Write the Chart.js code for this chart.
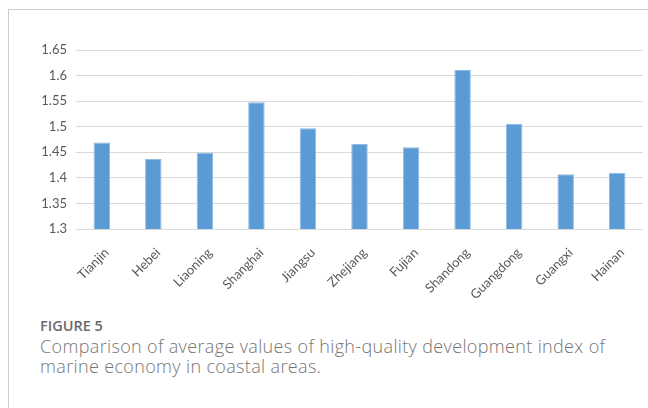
<!DOCTYPE html>
<html lang="en">

<head>
    <meta charset="UTF-8">
    <title>Figure 5</title>
    <script src="https://cdn.jsdelivr.net/npm/chart.js"></script>
    <style>
        html, body {
            margin: 0;
            padding: 0;
            background: #fff;
        }

        .janela {
            position: relative;
            width: 648px;
            height: 408px;
            overflow: hidden;
        }

        .moldura {
            position: absolute;
            left: 8px;
            top: 9px;
            width: 700px;
            height: 420px;
            border-top: 1px solid #cfcfcf;
            border-left: 1px solid #cfcfcf;
        }

        .grafico {
            position: absolute;
            left: 0;
            top: 0;
            width: 648px;
            height: 300px;
        }

        .legenda {
            position: absolute;
            left: 40px;
            top: 316px;
            width: 600px;
            font-family: "Open Sans", sans-serif;
        }

        .legenda h4 {
            margin: 0;
            font-size: 14.5px;
            font-weight: 600;
            color: #6a6a6a;
            line-height: 19px;
        }

        .legenda p {
            margin: 1px 0 0 0;
            font-size: 18px;
            font-weight: 300;
            letter-spacing: 0.35px;
            color: #767676;
            line-height: 20px;
        }
    </style>
</head>

<body>
    <div class="janela">
        <div class="moldura"></div>
        <div class="grafico">
            <canvas id="graficoBarra" width="648" height="300"></canvas>
        </div>
        <div class="legenda">
            <h4>FIGURE 5</h4>
            <p>Comparison of average values of high-quality development index of marine economy in coastal areas.</p>
        </div>
    </div>

    <script>
        // provinces along the x axis
        const regioes = ['Tianjin', 'Hebei', 'Liaoning', 'Shanghai', 'Jiangsu', 'Zhejiang',
            'Fujian', 'Shandong', 'Guangdong', 'Guangxi', 'Hainan'];

        // average index per province
        const mediaIndice = [1.469, 1.437, 1.449, 1.548, 1.497, 1.466, 1.460, 1.611, 1.506, 1.407, 1.410];

        // y axis labels, bottom to top
        const rotulosY = ['1.3', '1.35', '1.4', '1.45', '1.5', '1.55', '1.6', '1.65'];

        const ctx = document.getElementById('graficoBarra');

        new Chart(ctx, {
            type: 'bar',
            data: {
                labels: regioes,
                datasets: [{
                    label: 'Média',
                    data: mediaIndice,
                    backgroundColor: '#5b9bd5',
                    borderColor: '#8fbbe6',
                    borderWidth: 1,
                    barPercentage: 0.32,
                    categoryPercentage: 1
                }]
            },
            options: {
                responsive: false,
                animation: false,
                layout: {
                    padding: { left: 0, top: 50, right: 5, bottom: 0 }
                },
                plugins: {
                    legend: { display: false },
                    tooltip: { enabled: false }
                },
                scales: {
                    x: {
                        afterFit: function (s) { s.height = 71; },
                        grid: { display: false },
                        border: { display: false },
                        ticks: {
                            minRotation: 45,
                            maxRotation: 45,
                            color: '#595959',
                            padding: 8,
                            labelOffset: 5,
                            font: { family: 'Lato', size: 13 }
                        }
                    },
                    y: {
                        min: 1.3,
                        max: 1.65,
                        afterFit: function (s) { s.width = 76; },
                        grid: { color: '#d9d9d9', lineWidth: 1, drawTicks: false },
                        border: { display: false },
                        ticks: {
                            stepSize: 0.05,
                            padding: 9,
                            color: '#595959',
                            font: { family: 'Lato', size: 13 },
                            callback: function (value, index) {
                                return rotulosY[index];
                            }
                        }
                    }
                }
            }
        });
    </script>
</body>

</html>
